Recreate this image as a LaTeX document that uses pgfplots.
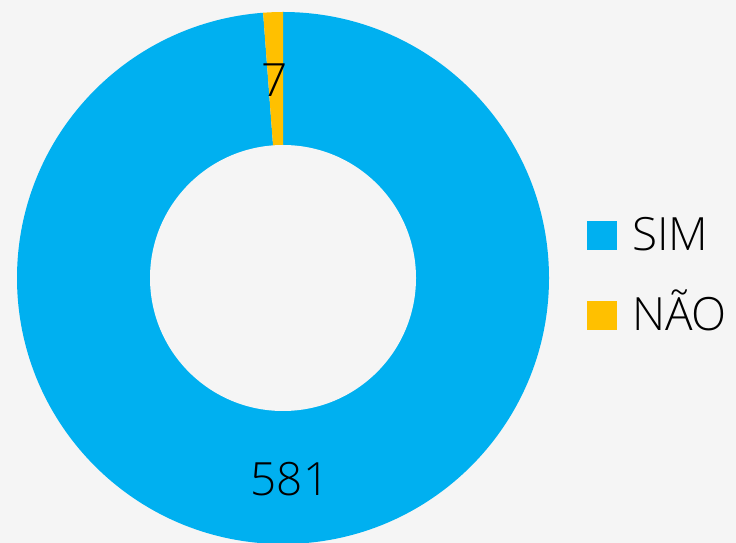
\documentclass[border=0pt]{standalone}
\usepackage{fontspec}
\setmainfont{Open Sans Light}
\usepackage{pgfplots}
\usepackage{pgfplotstable}
\pgfplotsset{compat=1.18}
\definecolor{bg}{HTML}{F5F5F5}
\definecolor{sim}{HTML}{00B0F0}
\definecolor{nao}{HTML}{FFC000}
\pgfplotstableread{
label value
SIM 581
NAO 7
}\datatable
\pgfplotstablegetelem{0}{value}\of\datatable \let\va\pgfplotsretval
\pgfplotstablegetelem{1}{value}\of\datatable \let\vb\pgfplotsretval
\pgfmathsetmacro\total{\va+\vb}
\pgfmathsetmacro\angA{360*(\va/\total)}
\pgfmathsetmacro\endA{90-\angA}
\begin{document}
\begin{tikzpicture}
\fill[bg] (0,0) rectangle (736bp,543bp);
\useasboundingbox (0,0) rectangle (736bp,543bp);
\begin{axis}[
  at={(0,0)}, anchor=south west,
  scale only axis, width=736bp, height=543bp,
  xmin=0, xmax=736, ymin=0, ymax=543,
  hide axis, clip=true,
]
% SIM wedge (clockwise from 12 o'clock)
\fill[sim] (axis cs:283,265) -- +(90:266bp) arc[start angle=90, end angle=\endA, radius=266bp] -- cycle;
% NAO wedge
\fill[nao] (axis cs:283,265) -- +(\endA:266bp) arc[start angle=\endA, end angle=-270, radius=266bp] -- cycle;
% hole
\fill[bg] (axis cs:283,265) circle[radius=133bp];
% data labels
\node[font=\fontsize{46}{50}\selectfont, text=black] at (axis cs:275,463) {\vb};
\node[font=\fontsize{46}{50}\selectfont, text=black] at (axis cs:290,64) {\va};
% legend
\fill[sim] (axis cs:587,322) rectangle (axis cs:617,293);
\fill[nao] (axis cs:587,242) rectangle (axis cs:617,213);
\node[anchor=base west, inner sep=0pt, font=\fontsize{46}{50}\selectfont] at (axis cs:632,292.5) {SIM};
\node[anchor=base west, inner sep=0pt, font=\fontsize{46}{50}\selectfont] at (axis cs:632,212.5) {NÃO};
\end{axis}
\end{tikzpicture}
\end{document}
